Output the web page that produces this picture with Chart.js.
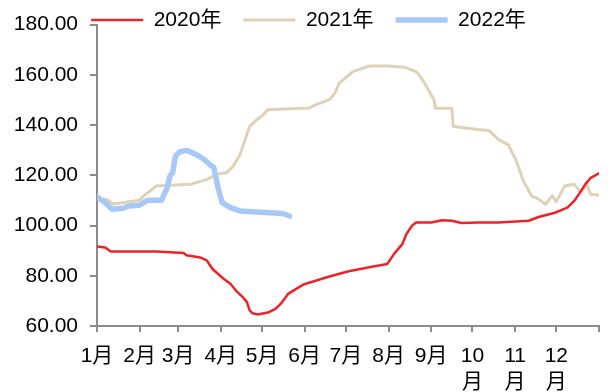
<!DOCTYPE html>
<html>
<head>
<meta charset="utf-8">
<script src="https://cdn.jsdelivr.net/npm/chart.js@4/dist/chart.umd.min.js"></script>
<style>
  body { margin: 0; background: #fff; }
</style>
</head>
<body>
<canvas id="myChart" width="611" height="392"></canvas>
<script>
// month axis: day-of-year where each month starts, and its label
const monthDays = [0, 31, 59, 90, 120, 151, 181, 212, 243, 273, 304, 334, 365];
const monthLabels = ['1月', '2月', '3月', '4月', '5月', '6月', '7月', '8月', '9月',
  ['10', '月'], ['11', '月'], ['12', '月'], ''];

const seriesNames = ['2020年', '2021年', '2022年'];

// 2020 (day of year, value)
const days2020 = [0, 6, 10, 43, 63, 65, 75, 80, 84, 92, 97, 101, 106, 109, 111, 113, 117, 125, 130, 134, 139, 141, 150, 153, 169, 183, 198, 211, 216, 222, 225, 229, 232, 243, 251, 258, 265, 277, 292, 314, 321, 333, 342, 347, 351, 355, 359, 365];
const vals2020 = [91.7, 91.3, 89.7, 89.7, 89.1, 88.2, 87.3, 86.0, 82.7, 78.8, 76.8, 74.1, 71.5, 69.5, 66.2, 65.1, 64.6, 65.5, 66.9, 69.1, 72.8, 73.5, 76.5, 77.0, 79.7, 81.8, 83.4, 84.7, 88.7, 92.6, 96.6, 99.9, 101.2, 101.2, 102.1, 101.9, 101.0, 101.2, 101.2, 101.9, 103.4, 105.1, 107.1, 109.8, 113.0, 116.4, 119.0, 120.8];

// 2021
const days2021 = [0, 7, 12, 31, 34, 37, 43, 68, 80, 87, 94, 99, 104, 109, 111, 116, 121, 124, 149, 154, 159, 169, 173, 176, 186, 198, 211, 224, 232, 236, 241, 245, 246, 258, 259, 268, 277, 285, 292, 299, 305, 310, 316, 321, 326, 331, 334, 340, 347, 352, 356, 359, 365];
const vals2021 = [110.5, 110.5, 108.6, 110.1, 111.8, 113.1, 115.7, 116.4, 118.4, 120.4, 121.0, 123.6, 128.3, 136.2, 139.5, 142.1, 144.1, 146.1, 146.7, 146.7, 148.1, 150.1, 152.7, 156.6, 161.3, 163.5, 163.5, 163.0, 161.3, 158.6, 154.0, 150.1, 146.7, 146.7, 139.5, 138.8, 138.2, 137.8, 134.2, 132.2, 125.6, 117.7, 111.8, 110.5, 108.5, 111.8, 109.5, 115.7, 116.4, 113.1, 116.4, 112.4, 112.2];

// 2022
const days2022 = [0, 6, 11, 19, 23, 31, 37, 47, 51, 53, 55, 57, 60, 65, 68, 72, 78, 82, 85, 88, 91, 97, 104, 126, 135, 140];
const vals2022 = [111.5, 109.1, 106.5, 106.9, 107.8, 108.1, 110.1, 110.1, 115.0, 119.7, 121.0, 127.6, 129.3, 129.9, 129.3, 128.3, 126.3, 124.3, 123.0, 115.0, 109.1, 107.1, 105.8, 105.1, 104.8, 103.8];

const yTicks = [60, 80, 100, 120, 140, 160, 180];

function toPoints(days, vals) {
  return days.map((d, i) => ({ x: d, y: vals[i] }));
}

const fontFamily = '"Liberation Sans", Arial, "Noto Sans CJK SC", sans-serif';
const axisColor = '#8c8c8c';

// legend sits partly over the plot top: keep its layout box short,
// but let it paint a bit lower than that box (and nudge it right)
const legendFit = {
  id: 'legendFit',
  beforeInit(chart) {
    if (!chart.legend) return;
    const fit = chart.legend.fit;
    chart.legend.fit = function () {
      fit.call(this);
      this.height = 37;
    };
  },
  afterLayout(chart) {
    const lg = chart.legend;
    if (!lg) return;
    lg.bottom = lg.top + 52;
    lg.left += 8;
    lg.right += 8;
  }
};

let ctx = document.getElementById('myChart').getContext('2d');
let myChart = new Chart(ctx, {
  type: 'line',
  data: {
    datasets: [{
      label: seriesNames[0],
      data: toPoints(days2020, vals2020),
      borderColor: '#e8252b',
      backgroundColor: '#e8252b',
      borderWidth: 2.5,
      order: 0
    }, {
      label: seriesNames[1],
      data: toPoints(days2021, vals2021),
      borderColor: '#ddd2ba',
      backgroundColor: '#ddd2ba',
      borderWidth: 3,
      order: 2
    }, {
      label: seriesNames[2],
      data: toPoints(days2022, vals2022),
      borderColor: '#a8c9f7',
      backgroundColor: '#a8c9f7',
      borderWidth: 5.5,
      order: 1
    }]
  },
  options: {
    responsive: false,
    animation: false,
    layout: { padding: { left: 0, right: 10, top: -14, bottom: 0 } },
    elements: {
      point: { radius: 0 },
      line: { tension: 0, borderJoinStyle: 'round', borderCapStyle: 'round' }
    },
    plugins: {
      tooltip: { enabled: false },
      legend: {
        display: true,
        position: 'top',
        labels: {
          usePointStyle: true,
          pointStyle: 'line',
          pointStyleWidth: 52,
          padding: 22,
          color: '#000',
          font: { family: fontFamily, size: 21 },
          sort: (a, b) => a.datasetIndex - b.datasetIndex
        }
      }
    },
    scales: {
      x: {
        type: 'linear',
        min: 0,
        max: 365,
        afterBuildTicks: (scale) => {
          scale.ticks = monthDays.map(d => ({ value: d }));
        },
        afterFit: (scale) => { scale.height = 66; },
        ticks: {
          autoSkip: false,
          maxRotation: 0,
          padding: 12,
          color: '#000',
          font: { family: fontFamily, size: 21, lineHeight: 1.2 },
          callback: (value, index) => monthLabels[index]
        },
        grid: { drawOnChartArea: false, drawTicks: true, tickLength: 6, color: axisColor, lineWidth: 2 },
        border: { color: axisColor, width: 2 }
      },
      y: {
        min: 60,
        max: 180,
        afterBuildTicks: (scale) => {
          scale.ticks = yTicks.map(v => ({ value: v }));
        },
        afterFit: (scale) => { scale.width = 97; },
        ticks: {
          padding: 12,
          color: '#000',
          font: { family: fontFamily, size: 21 },
          callback: (value) => value.toFixed(2)
        },
        grid: { drawOnChartArea: false, drawTicks: true, tickLength: 7, color: axisColor, lineWidth: 2 },
        border: { color: axisColor, width: 2 }
      }
    }
  },
  plugins: [legendFit]
});
</script>
</body>
</html>
